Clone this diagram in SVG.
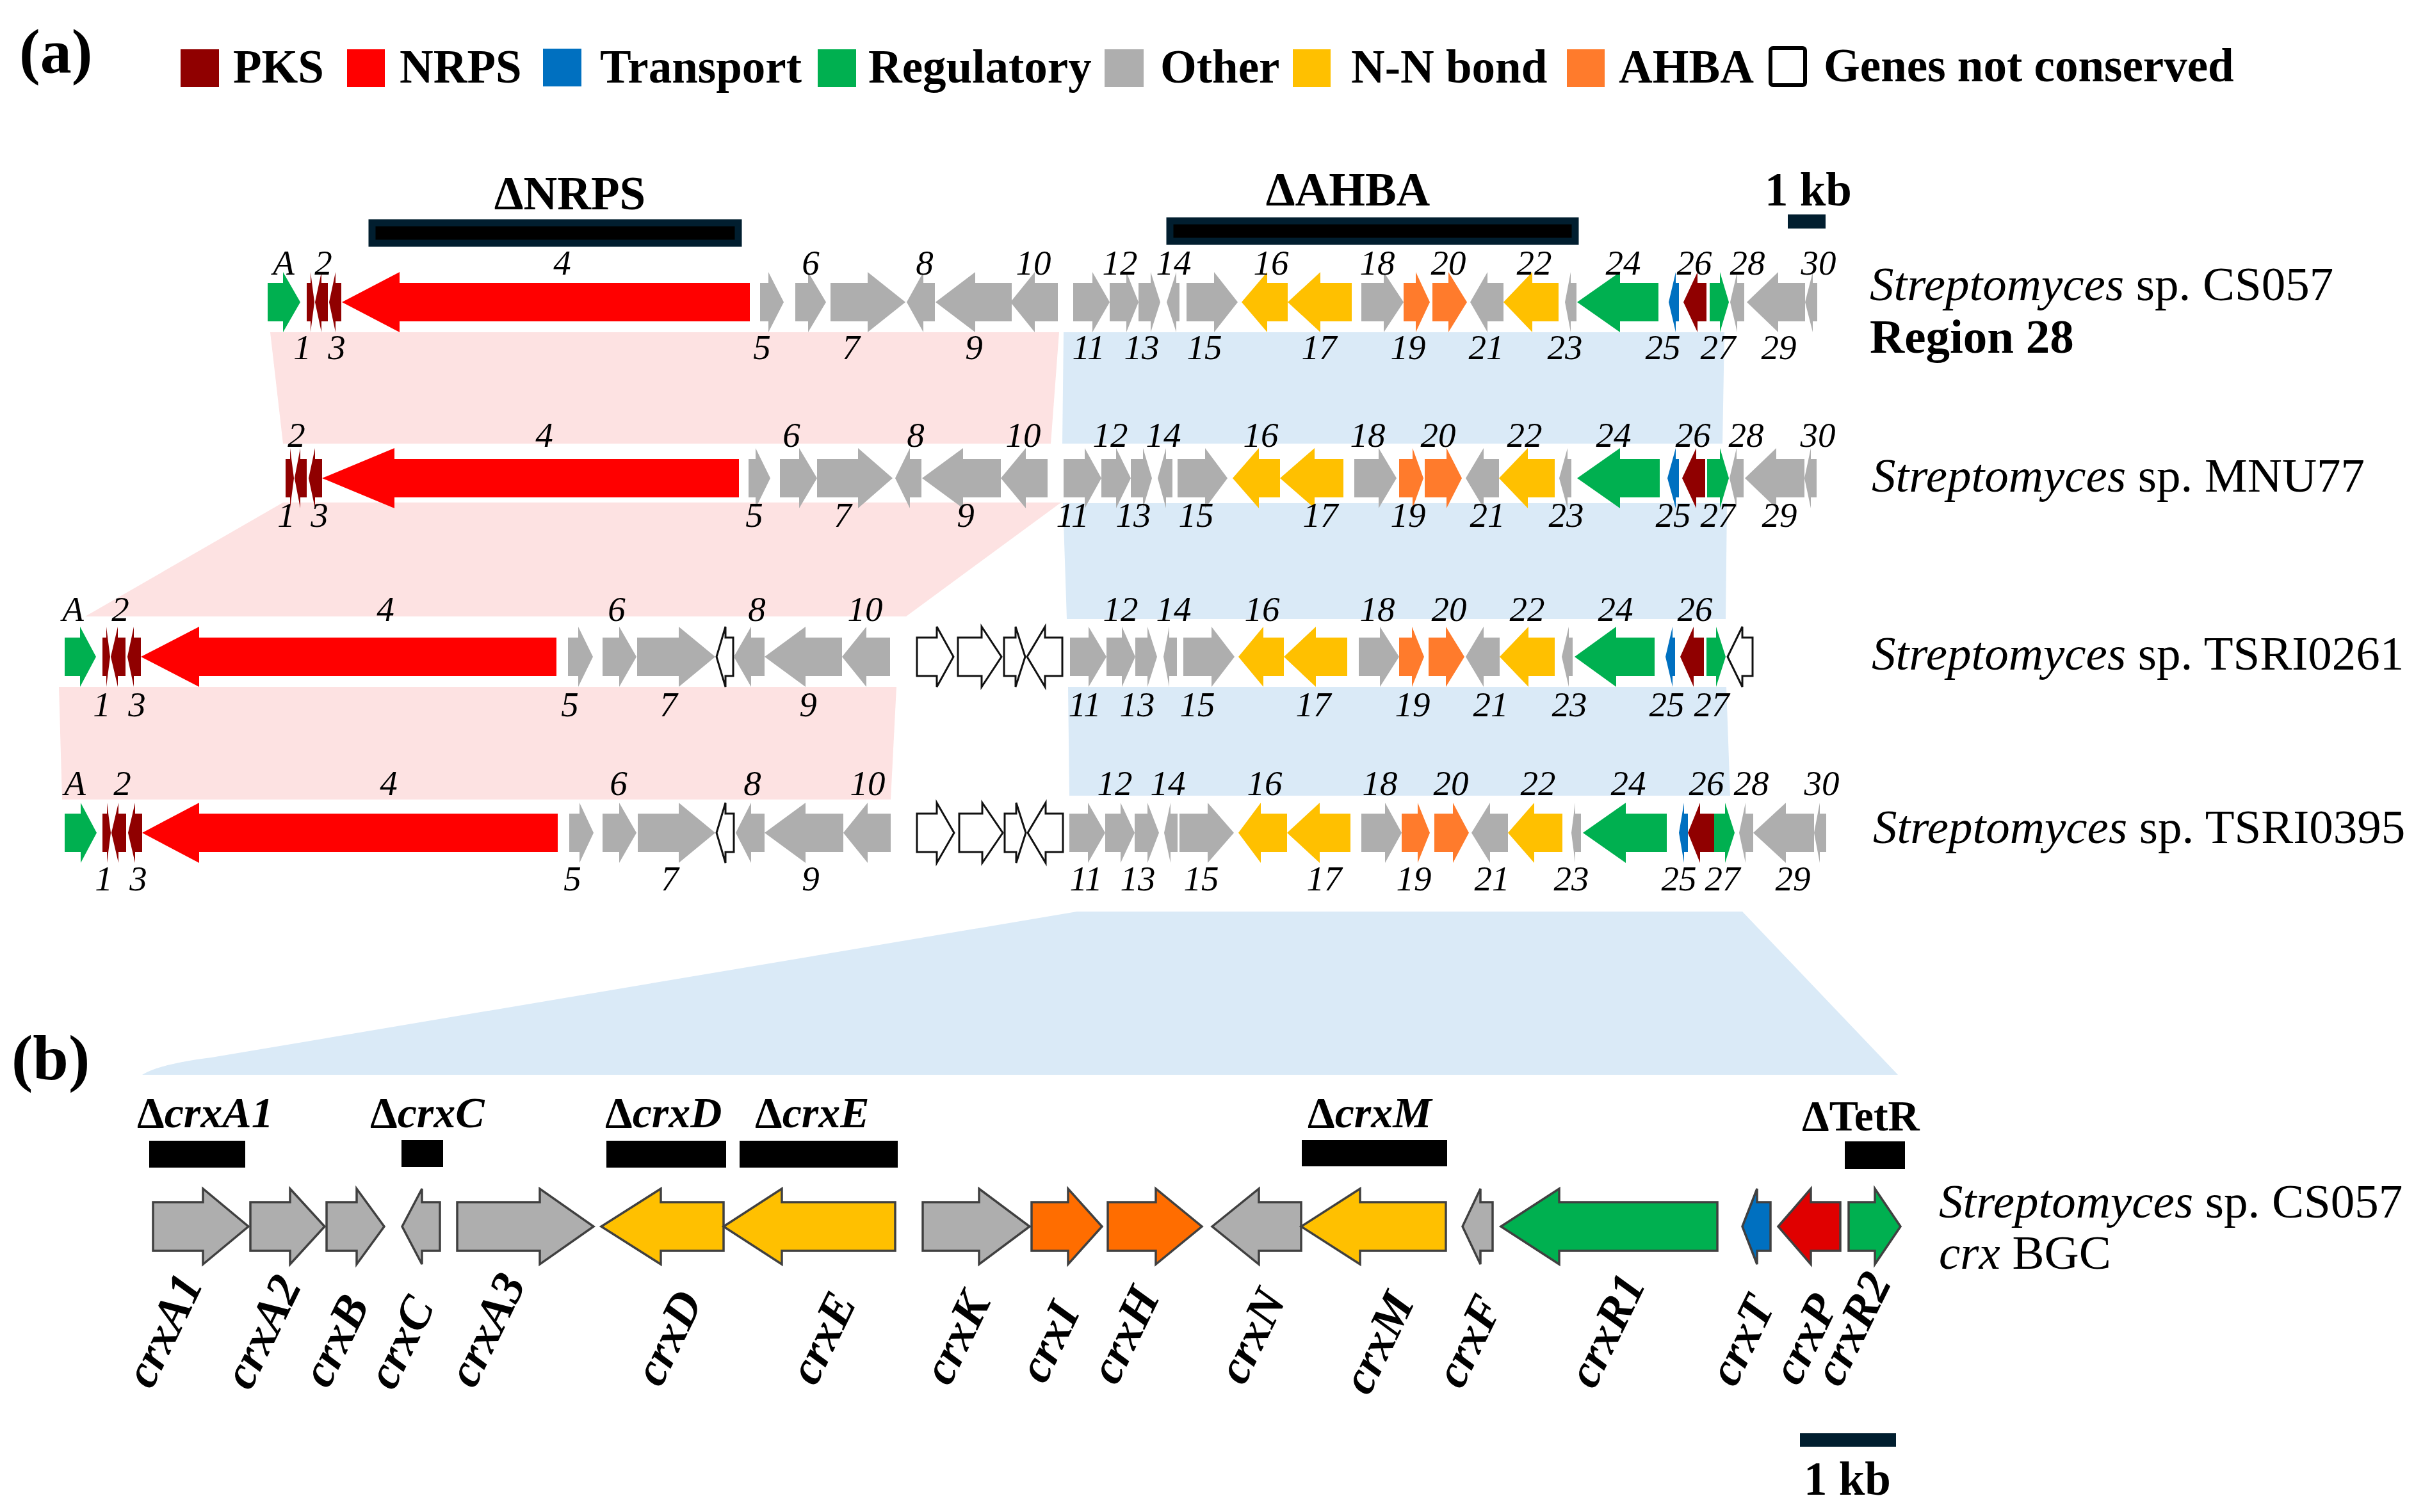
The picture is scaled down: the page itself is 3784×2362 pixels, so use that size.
<svg xmlns="http://www.w3.org/2000/svg" width="3784" height="2362" viewBox="0 0 3784 2362">
<style>
.pks{fill:#900000}.nrps{fill:#FF0000}.tr{fill:#0070C0}.reg{fill:#00B050}.oth{fill:#AEAEAE}.nn{fill:#FFC000}.ahba{fill:#FF7B2C}
.nc{fill:#FFFFFF;stroke:#111;stroke-width:3}
.pb polygon{stroke:#404040;stroke-width:3.5;stroke-linejoin:miter}
.ahbab{fill:#FF6D00}.redb{fill:#E00000}
.num{font-family:"Liberation Serif",serif;font-style:italic;font-size:55px;text-anchor:middle;fill:#000}
.lg{font-family:"Liberation Serif",serif;font-weight:bold;font-size:73px;fill:#000}
.sp{font-family:"Liberation Serif",serif;font-size:75px;fill:#000}
.it{font-style:italic}
.del{font-family:"Liberation Serif",serif;font-weight:bold;font-size:68px;fill:#000}
.gl{font-family:"Liberation Serif",serif;font-weight:bold;font-style:italic;font-size:74px;fill:#000}
.pink{fill:#FDE2E2}.blue{fill:#DAEAF7}
.bar{fill:#000;stroke:#011E2F;stroke-width:11}
</style>
<rect width="3784" height="2362" fill="#FFFFFF"/>

<!-- shading connectors -->
<g id="connectors">
<polygon class="pink" points="422,519 1654,519 1641,693 442,693"/>
<polygon class="blue" points="1661,519 2693,519 2690,693 1659,693"/>
<polygon class="pink" points="442,785 1657,785 1415,963 133,963"/>
<polygon class="blue" points="1660,786 2697,786 2695,967 1666,967"/>
<polygon class="pink" points="92,1073 1400,1073 1391,1249 97,1249"/>
<polygon class="blue" points="1668,1073 2696,1073 2702,1243 1670,1243"/>
<path class="blue" d="M1682,1424 L2721,1424 L2964,1679 L222,1679 Q250,1662 330,1652 Z"/>
</g>

<!-- panel labels -->
<text id="label-a" x="30" y="113" class="lg" style="font-size:98px">(a)</text>
<text id="label-b" x="18" y="1686" class="lg" style="font-size:100px">(b)</text>

<!-- legend -->
<g id="legend">
<rect x="282" y="77" width="60" height="59" class="pks"/><text x="364" y="129" class="lg">PKS</text>
<rect x="542" y="77" width="59" height="59" class="nrps"/><text x="624" y="129" class="lg">NRPS</text>
<rect x="848" y="76" width="60" height="59" class="tr"/><text x="937" y="129" class="lg">Transport</text>
<rect x="1277" y="77" width="60" height="59" class="reg"/><text x="1356" y="129" class="lg">Regulatory</text>
<rect x="1725" y="77" width="61" height="59" class="oth"/><text x="1812" y="129" class="lg">Other</text>
<rect x="2019" y="77" width="59" height="59" class="nn"/><text x="2110" y="129" class="lg">N-N bond</text>
<rect x="2447" y="77" width="59" height="59" class="ahba"/><text x="2528" y="129" class="lg">AHBA</text>
<rect x="2765" y="75" width="54" height="58" rx="4" fill="#FFF" stroke="#000" stroke-width="6"/><text x="2848" y="127" class="lg">Genes not conserved</text>
</g>

<!-- deletion bars panel a -->
<g id="del-nrps"><rect x="581" y="348" width="572" height="32" class="bar"/><text x="890" y="327" class="lg" text-anchor="middle">ΔNRPS</text></g>
<g id="del-ahba"><rect x="1827" y="345" width="633" height="32" class="bar"/><text x="2105" y="321" class="lg" text-anchor="middle">ΔAHBA</text></g>
<g id="scale-a"><rect x="2792" y="335" width="59" height="22" fill="#011E2F"/><text x="2824" y="321" class="lg" text-anchor="middle">1 kb</text></g>

<!-- Row 1: CS057 -->
<g id="row1" transform="translate(0,472)">
<g id="r1-A"><polygon class="reg" points="418,-30 442,-30 442,-47 469,0 442,47 442,30 418,30"/><text class="num" x="443" y="-43">A</text></g>
<g id="r1-1"><polygon class="pks" points="479,-30 485,-30 485,-47 491,0 485,47 485,30 479,30"/><text class="num" x="472" y="89">1</text></g>
<g id="r1-2"><polygon class="pks" points="492,0 502,-47 502,-30 512,-30 512,30 502,30 502,47"/><text class="num" x="505" y="-43">2</text></g>
<g id="r1-3"><polygon class="pks" points="514,0 524,-47 524,-30 533,-30 533,30 524,30 524,47"/><text class="num" x="526" y="89">3</text></g>
<g id="r1-4"><polygon class="nrps" points="534,0 624,-47 624,-30 1171,-30 1171,30 624,30 624,47"/><text class="num" x="878" y="-43">4</text></g>
<g id="r1-5"><polygon class="oth" points="1187,-30 1200,-30 1200,-47 1224,0 1200,47 1200,30 1187,30"/><text class="num" x="1190" y="89">5</text></g>
<g id="r1-6"><polygon class="oth" points="1242,-30 1262,-30 1262,-47 1290,0 1262,47 1262,30 1242,30"/><text class="num" x="1266" y="-43">6</text></g>
<g id="r1-7"><polygon class="oth" points="1297,-30 1355,-30 1355,-47 1414,0 1355,47 1355,30 1297,30"/><text class="num" x="1329" y="89">7</text></g>
<g id="r1-8"><polygon class="oth" points="1416,0 1442,-47 1442,-30 1460,-30 1460,30 1442,30 1442,47"/><text class="num" x="1444" y="-43">8</text></g>
<g id="r1-9"><polygon class="oth" points="1461,0 1523,-47 1523,-30 1580,-30 1580,30 1523,30 1523,47"/><text class="num" x="1521" y="89">9</text></g>
<g id="r1-10"><polygon class="oth" points="1578,0 1616,-47 1616,-30 1652,-30 1652,30 1616,30 1616,47"/><text class="num" x="1614" y="-43">10</text></g>
<g id="r1-11"><polygon class="oth" points="1676,-30 1706,-30 1706,-47 1733,0 1706,47 1706,30 1676,30"/><text class="num" x="1700" y="89">11</text></g>
<g id="r1-12"><polygon class="oth" points="1733,-30 1759,-30 1759,-47 1778,0 1759,47 1759,30 1733,30"/><text class="num" x="1749" y="-43">12</text></g>
<g id="r1-13"><polygon class="oth" points="1778,-30 1797,-30 1797,-47 1812,0 1797,47 1797,30 1778,30"/><text class="num" x="1783" y="89">13</text></g>
<g id="r1-14"><polygon class="oth" points="1822,0 1837,-47 1837,-30 1842,-30 1842,30 1837,30 1837,47"/><text class="num" x="1833" y="-43">14</text></g>
<g id="r1-15"><polygon class="oth" points="1853,-30 1896,-30 1896,-47 1933,0 1896,47 1896,30 1853,30"/><text class="num" x="1881" y="89">15</text></g>
<g id="r1-16"><polygon class="nn" points="1939,0 1979,-47 1979,-30 2011,-30 2011,30 1979,30 1979,47"/><text class="num" x="1985" y="-43">16</text></g>
<g id="r1-17"><polygon class="nn" points="2011,0 2062,-47 2062,-30 2111,-30 2111,30 2062,30 2062,47"/><text class="num" x="2060" y="89">17</text></g>
<g id="r1-18"><polygon class="oth" points="2126,-30 2161,-30 2161,-47 2192,0 2161,47 2161,30 2126,30"/><text class="num" x="2151" y="-43">18</text></g>
<g id="r1-19"><polygon class="ahba" points="2192,-30 2211,-30 2211,-47 2233,0 2211,47 2211,30 2192,30"/><text class="num" x="2199" y="89">19</text></g>
<g id="r1-20"><polygon class="ahba" points="2237,-30 2262,-30 2262,-47 2291,0 2262,47 2262,30 2237,30"/><text class="num" x="2262" y="-43">20</text></g>
<g id="r1-21"><polygon class="oth" points="2296,0 2323,-47 2323,-30 2348,-30 2348,30 2323,30 2323,47"/><text class="num" x="2321" y="89">21</text></g>
<g id="r1-22"><polygon class="nn" points="2348,0 2393,-47 2393,-30 2434,-30 2434,30 2393,30 2393,47"/><text class="num" x="2396" y="-43">22</text></g>
<g id="r1-23"><polygon class="oth" points="2444,0 2453,-47 2453,-30 2462,-30 2462,30 2453,30 2453,47"/><text class="num" x="2444" y="89">23</text></g>
<g id="r1-24"><polygon class="reg" points="2463,0 2530,-47 2530,-30 2590,-30 2590,30 2530,30 2530,47"/><text class="num" x="2535" y="-43">24</text></g>
<g id="r1-25"><polygon class="tr" points="2606,0 2617,-47 2617,-30 2622,-30 2622,30 2617,30 2617,47"/><text class="num" x="2597" y="89">25</text></g>
<g id="r1-26"><polygon class="pks" points="2629,0 2651,-47 2651,-30 2665,-30 2665,30 2651,30 2651,47"/><text class="num" x="2646" y="-43">26</text></g>
<g id="r1-27"><polygon class="reg" points="2670,-30 2686,-30 2686,-47 2700,0 2686,47 2686,30 2670,30"/><text class="num" x="2683" y="89">27</text></g>
<g id="r1-28"><polygon class="oth" points="2702,0 2713,-47 2713,-30 2724,-30 2724,30 2713,30 2713,47"/><text class="num" x="2729" y="-43">28</text></g>
<g id="r1-29"><polygon class="oth" points="2728,0 2777,-47 2777,-30 2819,-30 2819,30 2777,30 2777,47"/><text class="num" x="2778" y="89">29</text></g>
<g id="r1-30"><polygon class="oth" points="2819,0 2831,-47 2831,-30 2838,-30 2838,30 2831,30 2831,47"/><text class="num" x="2840" y="-43">30</text></g>
</g>
<g id="name-row1"><text class="sp" x="2920" y="469"><tspan class="it">Streptomyces</tspan> sp. CS057</text><text class="sp" x="2920" y="551" font-weight="bold">Region 28</text></g>

<!-- Row 2: MNU77 -->
<g id="row2" transform="translate(0,747)">
<g id="r2-1"><polygon class="pks" points="446,-30 453,-30 453,-47 459,0 453,47 453,30 446,30"/><text class="num" x="447" y="76">1</text></g>
<g id="r2-2"><polygon class="pks" points="460,0 469,-47 469,-30 479,-30 479,30 469,30 469,47"/><text class="num" x="463" y="-49">2</text></g>
<g id="r2-3"><polygon class="pks" points="482,0 492,-47 492,-30 503,-30 503,30 492,30 492,47"/><text class="num" x="499" y="76">3</text></g>
<g id="r2-4"><polygon class="nrps" points="503,0 616,-47 616,-30 1154,-30 1154,30 616,30 616,47"/><text class="num" x="850" y="-49">4</text></g>
<g id="r2-5"><polygon class="oth" points="1169,-30 1180,-30 1180,-47 1203,0 1180,47 1180,30 1169,30"/><text class="num" x="1178" y="76">5</text></g>
<g id="r2-6"><polygon class="oth" points="1218,-30 1248,-30 1248,-47 1276,0 1248,47 1248,30 1218,30"/><text class="num" x="1236" y="-49">6</text></g>
<g id="r2-7"><polygon class="oth" points="1276,-30 1340,-30 1340,-47 1394,0 1340,47 1340,30 1276,30"/><text class="num" x="1316" y="76">7</text></g>
<g id="r2-8"><polygon class="oth" points="1398,0 1421,-47 1421,-30 1439,-30 1439,30 1421,30 1421,47"/><text class="num" x="1430" y="-49">8</text></g>
<g id="r2-9"><polygon class="oth" points="1440,0 1504,-47 1504,-30 1563,-30 1563,30 1504,30 1504,47"/><text class="num" x="1508" y="76">9</text></g>
<g id="r2-10"><polygon class="oth" points="1563,0 1602,-47 1602,-30 1636,-30 1636,30 1602,30 1602,47"/><text class="num" x="1598" y="-49">10</text></g>
<g id="r2-11"><polygon class="oth" points="1661,-30 1694,-30 1694,-47 1720,0 1694,47 1694,30 1661,30"/><text class="num" x="1675" y="76">11</text></g>
<g id="r2-12"><polygon class="oth" points="1720,-30 1743,-30 1743,-47 1766,0 1743,47 1743,30 1720,30"/><text class="num" x="1734" y="-49">12</text></g>
<g id="r2-13"><polygon class="oth" points="1766,-30 1785,-30 1785,-47 1799,0 1785,47 1785,30 1766,30"/><text class="num" x="1770" y="76">13</text></g>
<g id="r2-14"><polygon class="oth" points="1808,0 1821,-47 1821,-30 1831,-30 1831,30 1821,30 1821,47"/><text class="num" x="1817" y="-49">14</text></g>
<g id="r2-15"><polygon class="oth" points="1839,-30 1882,-30 1882,-47 1917,0 1882,47 1882,30 1839,30"/><text class="num" x="1868" y="76">15</text></g>
<g id="r2-16"><polygon class="nn" points="1925,0 1966,-47 1966,-30 1999,-30 1999,30 1966,30 1966,47"/><text class="num" x="1969" y="-49">16</text></g>
<g id="r2-17"><polygon class="nn" points="1999,0 2053,-47 2053,-30 2098,-30 2098,30 2053,30 2053,47"/><text class="num" x="2062" y="76">17</text></g>
<g id="r2-18"><polygon class="oth" points="2115,-30 2153,-30 2153,-47 2181,0 2153,47 2153,30 2115,30"/><text class="num" x="2136" y="-49">18</text></g>
<g id="r2-19"><polygon class="ahba" points="2185,-30 2206,-30 2206,-47 2223,0 2206,47 2206,30 2185,30"/><text class="num" x="2199" y="76">19</text></g>
<g id="r2-20"><polygon class="ahba" points="2225,-30 2259,-30 2259,-47 2283,0 2259,47 2259,30 2225,30"/><text class="num" x="2246" y="-49">20</text></g>
<g id="r2-21"><polygon class="oth" points="2289,0 2317,-47 2317,-30 2341,-30 2341,30 2317,30 2317,47"/><text class="num" x="2323" y="76">21</text></g>
<g id="r2-22"><polygon class="nn" points="2341,0 2386,-47 2386,-30 2428,-30 2428,30 2386,30 2386,47"/><text class="num" x="2381" y="-49">22</text></g>
<g id="r2-23"><polygon class="oth" points="2435,0 2448,-47 2448,-30 2454,-30 2454,30 2448,30 2448,47"/><text class="num" x="2446" y="76">23</text></g>
<g id="r2-24"><polygon class="reg" points="2463,0 2530,-47 2530,-30 2592,-30 2592,30 2530,30 2530,47"/><text class="num" x="2520" y="-49">24</text></g>
<g id="r2-25"><polygon class="tr" points="2604,0 2617,-47 2617,-30 2622,-30 2622,30 2617,30 2617,47"/><text class="num" x="2613" y="76">25</text></g>
<g id="r2-26"><polygon class="pks" points="2627,0 2649,-47 2649,-30 2663,-30 2663,30 2649,30 2649,47"/><text class="num" x="2644" y="-49">26</text></g>
<g id="r2-27"><polygon class="reg" points="2666,-30 2686,-30 2686,-47 2700,0 2686,47 2686,30 2666,30"/><text class="num" x="2683" y="76">27</text></g>
<g id="r2-28"><polygon class="oth" points="2701,0 2712,-47 2712,-30 2723,-30 2723,30 2712,30 2712,47"/><text class="num" x="2727" y="-49">28</text></g>
<g id="r2-29"><polygon class="oth" points="2725,0 2774,-47 2774,-30 2818,-30 2818,30 2774,30 2774,47"/><text class="num" x="2779" y="76">29</text></g>
<g id="r2-30"><polygon class="oth" points="2818,0 2828,-47 2828,-30 2837,-30 2837,30 2828,30 2828,47"/><text class="num" x="2839" y="-49">30</text></g>
</g>
<g id="name-row2"><text class="sp" x="2923" y="768"><tspan class="it">Streptomyces</tspan> sp. MNU77</text></g>

<!-- Row 3: TSRI0261 -->
<g id="row3" transform="translate(0,1026)">
<g id="r3-A"><polygon class="reg" points="101,-30 125,-30 125,-47 150,0 125,47 125,30 101,30"/><text class="num" x="114" y="-56">A</text></g>
<g id="r3-1"><polygon class="pks" points="160,-30 166,-30 166,-47 172,0 166,47 166,30 160,30"/><text class="num" x="159" y="93">1</text></g>
<g id="r3-2"><polygon class="pks" points="173,0 184,-47 184,-30 196,-30 196,30 184,30 184,47"/><text class="num" x="188" y="-56">2</text></g>
<g id="r3-3"><polygon class="pks" points="199,0 209,-47 209,-30 220,-30 220,30 209,30 209,47"/><text class="num" x="214" y="93">3</text></g>
<g id="r3-4"><polygon class="nrps" points="220,0 311,-47 311,-30 869,-30 869,30 311,30 311,47"/><text class="num" x="602" y="-56">4</text></g>
<g id="r3-5"><polygon class="oth" points="887,-30 903,-30 903,-47 926,0 903,47 903,30 887,30"/><text class="num" x="890" y="93">5</text></g>
<g id="r3-6"><polygon class="oth" points="941,-30 967,-30 967,-47 994,0 967,47 967,30 941,30"/><text class="num" x="963" y="-56">6</text></g>
<g id="r3-7"><polygon class="oth" points="995,-30 1060,-30 1060,-47 1117,0 1060,47 1060,30 995,30"/><text class="num" x="1044" y="93">7</text></g>
<g id="r3-nc1"><polygon class="nc" points="1119,0 1133,-47 1133,-30 1145,-30 1145,30 1133,30 1133,47"/></g>
<g id="r3-8"><polygon class="oth" points="1146,0 1173,-47 1173,-30 1194,-30 1194,30 1173,30 1173,47"/><text class="num" x="1182" y="-56">8</text></g>
<g id="r3-9"><polygon class="oth" points="1194,0 1258,-47 1258,-30 1315,-30 1315,30 1258,30 1258,47"/><text class="num" x="1262" y="93">9</text></g>
<g id="r3-10"><polygon class="oth" points="1315,0 1353,-47 1353,-30 1390,-30 1390,30 1353,30 1353,47"/><text class="num" x="1351" y="-56">10</text></g>
<g id="r3-nc2"><polygon class="nc" points="1432,-30 1463,-30 1463,-47 1489,0 1463,47 1463,30 1432,30"/></g>
<g id="r3-nc3"><polygon class="nc" points="1496,-30 1533,-30 1533,-47 1564,0 1533,47 1533,30 1496,30"/></g>
<g id="r3-nc4"><polygon class="nc" points="1568,-30 1586,-30 1586,-47 1601,0 1586,47 1586,30 1568,30"/></g>
<g id="r3-nc5"><polygon class="nc" points="1604,0 1632,-47 1632,-30 1659,-30 1659,30 1632,30 1632,47"/></g>
<g id="r3-11"><polygon class="oth" points="1671,-30 1700,-30 1700,-47 1728,0 1700,47 1700,30 1671,30"/><text class="num" x="1694" y="93">11</text></g>
<g id="r3-12"><polygon class="oth" points="1728,-30 1752,-30 1752,-47 1773,0 1752,47 1752,30 1728,30"/><text class="num" x="1750" y="-56">12</text></g>
<g id="r3-13"><polygon class="oth" points="1773,-30 1792,-30 1792,-47 1807,0 1792,47 1792,30 1773,30"/><text class="num" x="1776" y="93">13</text></g>
<g id="r3-14"><polygon class="oth" points="1817,0 1826,-47 1826,-30 1838,-30 1838,30 1826,30 1826,47"/><text class="num" x="1833" y="-56">14</text></g>
<g id="r3-15"><polygon class="oth" points="1848,-30 1892,-30 1892,-47 1928,0 1892,47 1892,30 1848,30"/><text class="num" x="1870" y="93">15</text></g>
<g id="r3-16"><polygon class="nn" points="1934,0 1973,-47 1973,-30 2005,-30 2005,30 1973,30 1973,47"/><text class="num" x="1971" y="-56">16</text></g>
<g id="r3-17"><polygon class="nn" points="2005,0 2055,-47 2055,-30 2104,-30 2104,30 2055,30 2055,47"/><text class="num" x="2051" y="93">17</text></g>
<g id="r3-18"><polygon class="oth" points="2122,-30 2155,-30 2155,-47 2185,0 2155,47 2155,30 2122,30"/><text class="num" x="2151" y="-56">18</text></g>
<g id="r3-19"><polygon class="ahba" points="2185,-30 2205,-30 2205,-47 2224,0 2205,47 2205,30 2185,30"/><text class="num" x="2206" y="93">19</text></g>
<g id="r3-20"><polygon class="ahba" points="2231,-30 2258,-30 2258,-47 2287,0 2258,47 2258,30 2231,30"/><text class="num" x="2263" y="-56">20</text></g>
<g id="r3-21"><polygon class="oth" points="2289,0 2317,-47 2317,-30 2342,-30 2342,30 2317,30 2317,47"/><text class="num" x="2328" y="93">21</text></g>
<g id="r3-22"><polygon class="nn" points="2342,0 2387,-47 2387,-30 2428,-30 2428,30 2387,30 2387,47"/><text class="num" x="2385" y="-56">22</text></g>
<g id="r3-23"><polygon class="oth" points="2439,0 2450,-47 2450,-30 2456,-30 2456,30 2450,30 2450,47"/><text class="num" x="2451" y="93">23</text></g>
<g id="r3-24"><polygon class="reg" points="2459,0 2524,-47 2524,-30 2584,-30 2584,30 2524,30 2524,47"/><text class="num" x="2523" y="-56">24</text></g>
<g id="r3-25"><polygon class="tr" points="2601,0 2612,-47 2612,-30 2616,-30 2616,30 2612,30 2612,47"/><text class="num" x="2603" y="93">25</text></g>
<g id="r3-26"><polygon class="pks" points="2624,0 2645,-47 2645,-30 2661,-30 2661,30 2645,30 2645,47"/><text class="num" x="2647" y="-56">26</text></g>
<g id="r3-27"><polygon class="reg" points="2665,-30 2680,-30 2680,-47 2695,0 2680,47 2680,30 2665,30"/><text class="num" x="2673" y="93">27</text></g>
<g id="r3-nc6"><polygon class="nc" points="2698,0 2721,-47 2721,-30 2737,-30 2737,30 2721,30 2721,47"/></g>
</g>
<g id="name-row3"><text class="sp" x="2923" y="1046"><tspan class="it">Streptomyces</tspan> sp. TSRI0261</text></g>

<!-- Row 4: TSRI0395 -->
<g id="row4" transform="translate(0,1301)">
<g id="r4-A"><polygon class="reg" points="101,-30 126,-30 126,-47 151,0 126,47 126,30 101,30"/><text class="num" x="117" y="-59">A</text></g>
<g id="r4-1"><polygon class="pks" points="160,-30 167,-30 167,-47 173,0 167,47 167,30 160,30"/><text class="num" x="162" y="90">1</text></g>
<g id="r4-2"><polygon class="pks" points="174,0 185,-47 185,-30 197,-30 197,30 185,30 185,47"/><text class="num" x="191" y="-59">2</text></g>
<g id="r4-3"><polygon class="pks" points="200,0 211,-47 211,-30 222,-30 222,30 211,30 211,47"/><text class="num" x="216" y="90">3</text></g>
<g id="r4-4"><polygon class="nrps" points="222,0 311,-47 311,-30 871,-30 871,30 311,30 311,47"/><text class="num" x="607" y="-59">4</text></g>
<g id="r4-5"><polygon class="oth" points="889,-30 905,-30 905,-47 927,0 905,47 905,30 889,30"/><text class="num" x="894" y="90">5</text></g>
<g id="r4-6"><polygon class="oth" points="941,-30 967,-30 967,-47 994,0 967,47 967,30 941,30"/><text class="num" x="966" y="-59">6</text></g>
<g id="r4-7"><polygon class="oth" points="996,-30 1060,-30 1060,-47 1117,0 1060,47 1060,30 996,30"/><text class="num" x="1046" y="90">7</text></g>
<g id="r4-nc1"><polygon class="nc" points="1119,0 1133,-47 1133,-30 1146,-30 1146,30 1133,30 1133,47"/></g>
<g id="r4-8"><polygon class="oth" points="1149,0 1173,-47 1173,-30 1194,-30 1194,30 1173,30 1173,47"/><text class="num" x="1175" y="-59">8</text></g>
<g id="r4-9"><polygon class="oth" points="1194,0 1258,-47 1258,-30 1317,-30 1317,30 1258,30 1258,47"/><text class="num" x="1266" y="90">9</text></g>
<g id="r4-10"><polygon class="oth" points="1317,0 1355,-47 1355,-30 1391,-30 1391,30 1355,30 1355,47"/><text class="num" x="1355" y="-59">10</text></g>
<g id="r4-nc2"><polygon class="nc" points="1432,-30 1463,-30 1463,-47 1490,0 1463,47 1463,30 1432,30"/></g>
<g id="r4-nc3"><polygon class="nc" points="1498,-30 1534,-30 1534,-47 1566,0 1534,47 1534,30 1498,30"/></g>
<g id="r4-nc4"><polygon class="nc" points="1569,-30 1587,-30 1587,-47 1602,0 1587,47 1587,30 1569,30"/></g>
<g id="r4-nc5"><polygon class="nc" points="1605,0 1633,-47 1633,-30 1660,-30 1660,30 1633,30 1633,47"/></g>
<g id="r4-11"><polygon class="oth" points="1670,-30 1699,-30 1699,-47 1726,0 1699,47 1699,30 1670,30"/><text class="num" x="1696" y="90">11</text></g>
<g id="r4-12"><polygon class="oth" points="1726,-30 1750,-30 1750,-47 1772,0 1750,47 1750,30 1726,30"/><text class="num" x="1741" y="-59">12</text></g>
<g id="r4-13"><polygon class="oth" points="1772,-30 1792,-30 1792,-47 1810,0 1792,47 1792,30 1772,30"/><text class="num" x="1777" y="90">13</text></g>
<g id="r4-14"><polygon class="oth" points="1818,0 1828,-47 1828,-30 1839,-30 1839,30 1828,30 1828,47"/><text class="num" x="1824" y="-59">14</text></g>
<g id="r4-15"><polygon class="oth" points="1842,-30 1886,-30 1886,-47 1927,0 1886,47 1886,30 1842,30"/><text class="num" x="1876" y="90">15</text></g>
<g id="r4-16"><polygon class="nn" points="1934,0 1969,-47 1969,-30 2010,-30 2010,30 1969,30 1969,47"/><text class="num" x="1975" y="-59">16</text></g>
<g id="r4-17"><polygon class="nn" points="2010,0 2061,-47 2061,-30 2109,-30 2109,30 2061,30 2061,47"/><text class="num" x="2068" y="90">17</text></g>
<g id="r4-18"><polygon class="oth" points="2126,-30 2163,-30 2163,-47 2189,0 2163,47 2163,30 2126,30"/><text class="num" x="2155" y="-59">18</text></g>
<g id="r4-19"><polygon class="ahba" points="2189,-30 2214,-30 2214,-47 2233,0 2214,47 2214,30 2189,30"/><text class="num" x="2208" y="90">19</text></g>
<g id="r4-20"><polygon class="ahba" points="2240,-30 2269,-30 2269,-47 2294,0 2269,47 2269,30 2240,30"/><text class="num" x="2266" y="-59">20</text></g>
<g id="r4-21"><polygon class="oth" points="2298,0 2327,-47 2327,-30 2355,-30 2355,30 2327,30 2327,47"/><text class="num" x="2330" y="90">21</text></g>
<g id="r4-22"><polygon class="nn" points="2355,0 2396,-47 2396,-30 2440,-30 2440,30 2396,30 2396,47"/><text class="num" x="2402" y="-59">22</text></g>
<g id="r4-23"><polygon class="oth" points="2454,0 2460,-47 2460,-30 2469,-30 2469,30 2460,30 2460,47"/><text class="num" x="2454" y="90">23</text></g>
<g id="r4-24"><polygon class="reg" points="2472,0 2539,-47 2539,-30 2603,-30 2603,30 2539,30 2539,47"/><text class="num" x="2543" y="-59">24</text></g>
<g id="r4-25"><polygon class="tr" points="2622,0 2630,-47 2630,-30 2636,-30 2636,30 2630,30 2630,47"/><text class="num" x="2622" y="90">25</text></g>
<g id="r4-26"><polygon class="pks" points="2636,0 2655,-47 2655,-30 2677,-30 2677,30 2655,30 2655,47"/><text class="num" x="2665" y="-59">26</text></g>
<g id="r4-27"><polygon class="reg" points="2677,-30 2694,-30 2694,-47 2709,0 2694,47 2694,30 2677,30"/><text class="num" x="2690" y="90">27</text></g>
<g id="r4-28"><polygon class="oth" points="2716,0 2726,-47 2726,-30 2738,-30 2738,30 2726,30 2726,47"/><text class="num" x="2735" y="-59">28</text></g>
<g id="r4-29"><polygon class="oth" points="2738,0 2789,-47 2789,-30 2833,-30 2833,30 2789,30 2789,47"/><text class="num" x="2800" y="90">29</text></g>
<g id="r4-30"><polygon class="oth" points="2833,0 2842,-47 2842,-30 2852,-30 2852,30 2842,30 2842,47"/><text class="num" x="2845" y="-59">30</text></g>
</g>
<g id="name-row4"><text class="sp" x="2925" y="1317"><tspan class="it">Streptomyces</tspan> sp. TSRI0395</text></g>

<!-- Panel b deletions -->
<g id="del-crxA1"><rect x="233" y="1782" width="150" height="42"/><text class="del" x="214" y="1761">Δ<tspan class="it">crxA1</tspan></text></g>
<g id="del-crxC"><rect x="627" y="1781" width="65" height="42"/><text class="del" x="578" y="1761">Δ<tspan class="it">crxC</tspan></text></g>
<g id="del-crxD"><rect x="947" y="1782" width="187" height="42"/><text class="del" x="945" y="1761">Δ<tspan class="it">crxD</tspan></text></g>
<g id="del-crxE"><rect x="1155" y="1782" width="247" height="42"/><text class="del" x="1179" y="1761">Δ<tspan class="it">crxE</tspan></text></g>
<g id="del-crxM"><rect x="2033" y="1781" width="227" height="41"/><text class="del" x="2042" y="1761">Δ<tspan class="it">crxM</tspan></text></g>
<g id="del-TetR"><rect x="2881" y="1783" width="94" height="43"/><text class="del" x="2814" y="1766">ΔTetR</text></g>

<!-- Panel b genes -->
<g id="rowb" class="pb" transform="translate(0,1916)">
<g id="b-crxA1"><polygon class="oth" points="239,-38 317,-38 317,-59 388,0 317,59 317,38 239,38"/></g>
<g id="b-crxA2"><polygon class="oth" points="391,-38 453,-38 453,-59 507,0 453,59 453,38 391,38"/></g>
<g id="b-crxB"><polygon class="oth" points="510,-38 557,-38 557,-59 600,0 557,59 557,38 510,38"/></g>
<g id="b-crxC"><polygon class="oth" points="628,0 659,-59 659,-38 687,-38 687,38 659,38 659,59"/></g>
<g id="b-crxA3"><polygon class="oth" points="714,-38 843,-38 843,-59 927,0 843,59 843,38 714,38"/></g>
<g id="b-crxD"><polygon class="nn" points="939,0 1032,-59 1032,-38 1130,-38 1130,38 1032,38 1032,59"/></g>
<g id="b-crxE"><polygon class="nn" points="1130,0 1221,-59 1221,-38 1398,-38 1398,38 1221,38 1221,59"/></g>
<g id="b-crxK"><polygon class="oth" points="1441,-38 1529,-38 1529,-59 1608,0 1529,59 1529,38 1441,38"/></g>
<g id="b-crxI"><polygon class="ahbab" points="1611,-38 1668,-38 1668,-59 1721,0 1668,59 1668,38 1611,38"/></g>
<g id="b-crxH"><polygon class="ahbab" points="1730,-38 1805,-38 1805,-59 1877,0 1805,59 1805,38 1730,38"/></g>
<g id="b-crxN"><polygon class="oth" points="1893,0 1966,-59 1966,-38 2032,-38 2032,38 1966,38 1966,59"/></g>
<g id="b-crxM"><polygon class="nn" points="2032,0 2124,-59 2124,-38 2258,-38 2258,38 2124,38 2124,59"/></g>
<g id="b-crxF"><polygon class="oth" points="2284,0 2312,-59 2312,-38 2331,-38 2331,38 2312,38 2312,59"/></g>
<g id="b-crxR1"><polygon class="reg" points="2344,0 2435,-59 2435,-38 2682,-38 2682,38 2435,38 2435,59"/></g>
<g id="b-crxT"><polygon class="tr" points="2721,0 2744,-59 2744,-38 2765,-38 2765,38 2744,38 2744,59"/></g>
<g id="b-crxP"><polygon class="redb" points="2777,0 2828,-59 2828,-38 2874,-38 2874,38 2828,38 2828,59"/></g>
<g id="b-crxR2"><polygon class="reg" points="2887,-38 2928,-38 2928,-59 2968,0 2928,59 2928,38 2887,38"/></g>
</g>

<!-- Panel b gene labels -->
<g id="b-labels">
<text class="gl" x="237" y="2172" transform="rotate(-64 237 2172)">crxA1</text>
<text class="gl" x="391" y="2174" transform="rotate(-64 391 2174)">crxA2</text>
<text class="gl" x="513" y="2171" transform="rotate(-64 513 2171)">crxB</text>
<text class="gl" x="615" y="2174" transform="rotate(-64 615 2174)">crxC</text>
<text class="gl" x="741" y="2171" transform="rotate(-64 741 2171)">crxA3</text>
<text class="gl" x="1032" y="2169" transform="rotate(-64 1032 2169)">crxD</text>
<text class="gl" x="1274" y="2167" transform="rotate(-64 1274 2167)">crxE</text>
<text class="gl" x="1483" y="2167" transform="rotate(-64 1483 2167)">crxK</text>
<text class="gl" x="1632" y="2164" transform="rotate(-64 1632 2164)">crxI</text>
<text class="gl" x="1744" y="2166" transform="rotate(-64 1744 2166)">crxH</text>
<text class="gl" x="1943" y="2166" transform="rotate(-64 1943 2166)">crxN</text>
<text class="gl" x="2138" y="2182" transform="rotate(-64 2138 2182)">crxM</text>
<text class="gl" x="2283" y="2172" transform="rotate(-64 2283 2172)">crxF</text>
<text class="gl" x="2490" y="2172" transform="rotate(-64 2490 2172)">crxR1</text>
<text class="gl" x="2710" y="2169" transform="rotate(-64 2710 2169)">crxT</text>
<text class="gl" x="2809" y="2167" transform="rotate(-64 2809 2167)">crxP</text>
<text class="gl" x="2874" y="2169" transform="rotate(-64 2874 2169)">crxR2</text>
</g>

<g id="name-b"><text class="sp" x="3028" y="1902"><tspan class="it">Streptomyces</tspan> sp. CS057</text><text class="sp" x="3028" y="1982"><tspan class="it">crx</tspan> BGC</text></g>
<g id="scale-b"><rect x="2811" y="2239" width="150" height="21" fill="#011E2F"/><text class="lg" x="2885" y="2335" text-anchor="middle">1 kb</text></g>
</svg>
